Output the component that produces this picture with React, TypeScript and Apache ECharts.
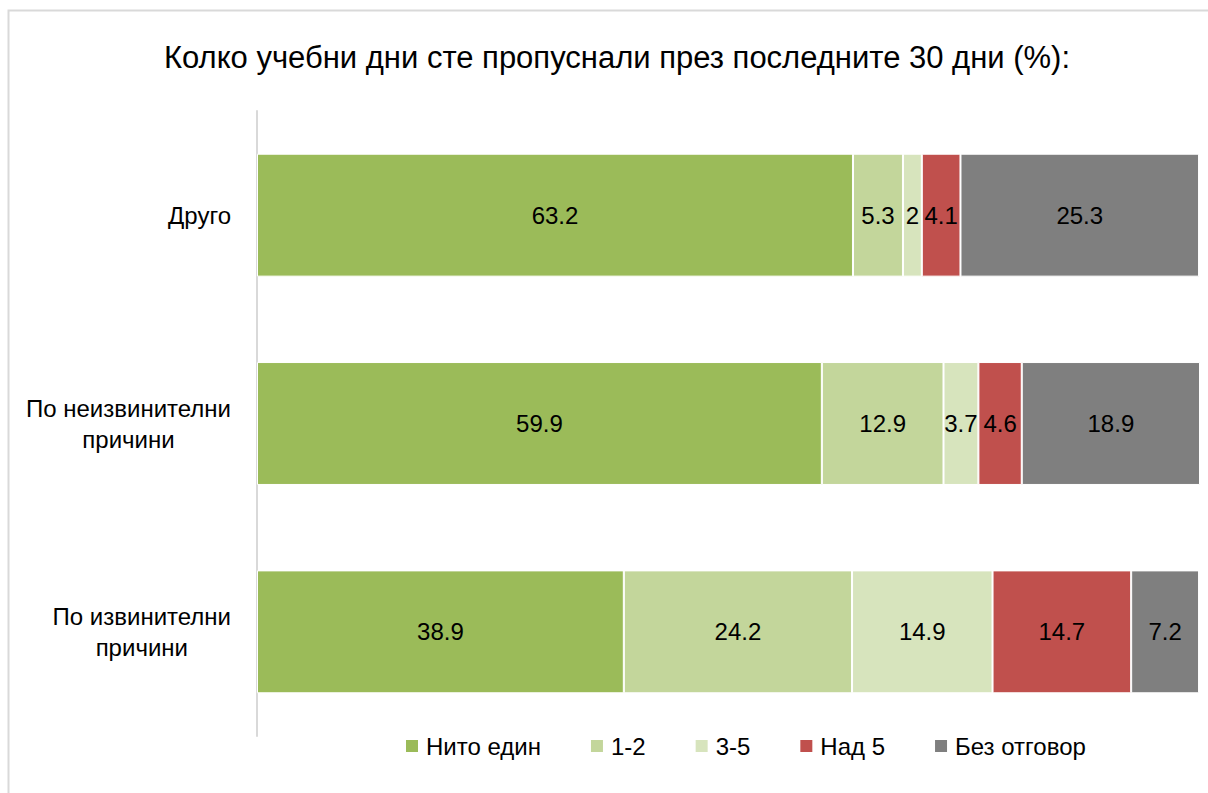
import React, { useEffect, useRef } from "react";
import * as echarts from "echarts";

const categories = ["По извинителни\nпричини", "По неизвинителни\nпричини", "Друго"];
const seriesNames = ["Нито един", "1-2", "3-5", "Над 5", "Без отговор"];
const noneValues = [38.9, 59.9, 63.2];
const oneTwoValues = [24.2, 12.9, 5.3];
const threeFiveValues = [14.9, 3.7, 2];
const overFiveValues = [14.7, 4.6, 4.1];
const noAnswerValues = [7.2, 18.9, 25.3];
const colors = ["#9BBB59", "#C3D69B", "#D7E4BD", "#C0504D", "#7F7F7F"];

const FONT = "'Liberation Sans', Arial, sans-serif";

export default function App() {
  const ref = useRef<HTMLDivElement>(null);
  useEffect(() => {
    if (!ref.current) return;
    const chart = echarts.init(ref.current, null, { renderer: "svg" });
    const values = [noneValues, oneTwoValues, threeFiveValues, overFiveValues, noAnswerValues];
    chart.setOption({
      animation: false,
      textStyle: { fontFamily: FONT },
      title: {
        text: "Колко учебни дни сте пропуснали през последните 30 дни (%):",
        left: 612,
        textAlign: "center",
        top: 37,
        textStyle: { fontFamily: FONT, fontSize: 31, fontWeight: "normal", color: "#000" },
      },
      graphic: [
        {
          type: "rect",
          shape: { x: 8.5, y: 10.5, width: 1220, height: 820 },
          style: { fill: "none", stroke: "#d9d9d9", lineWidth: 2 },
          silent: true,
        },
      ],
      legend: {
        data: seriesNames,
        left: 399,
        top: 729,
        itemWidth: 14,
        itemHeight: 14,
        itemGap: 48,
        icon: "rect",
        textStyle: { fontFamily: FONT, fontSize: 24, color: "#000", padding: [0, 0, 0, 2] },
      },
      grid: { left: 257, right: 8, top: 111, bottom: 57 },
      xAxis: { type: "value", min: 0, max: 100, show: false },
      yAxis: {
        type: "category",
        data: categories,
        axisLine: { show: true, lineStyle: { color: "#d9d9d9", width: 2 } },
        axisTick: { show: false },
        axisLabel: {
          margin: 26,
          fontSize: 24,
          color: "#000",
          fontFamily: FONT,
          lineHeight: 31,
          formatter: (v: string) => v.split("\n").map((l) => `{c|${l}}`).join("\n"),
          rich: { c: { align: "center", fontSize: 24, fontFamily: FONT, color: "#000", lineHeight: 31 } },
        },
      },
      series: seriesNames.map((name, i) => ({
        name,
        type: "bar",
        stack: "total",
        barCategoryGap: "41%",
        data: values[i],
        itemStyle: { color: colors[i], borderColor: "#fff", borderWidth: 1 },
        label: {
          show: true,
          position: "inside",
          color: "#000",
          fontSize: 24,
          fontFamily: FONT,
        },
      })),
    });
    return () => chart.dispose();
  }, []);
  return (
    <div
      ref={ref}
      style={{ position: "absolute", left: 0, top: 0, width: 1208, height: 793, background: "#fff" }}
    />
  );
}
